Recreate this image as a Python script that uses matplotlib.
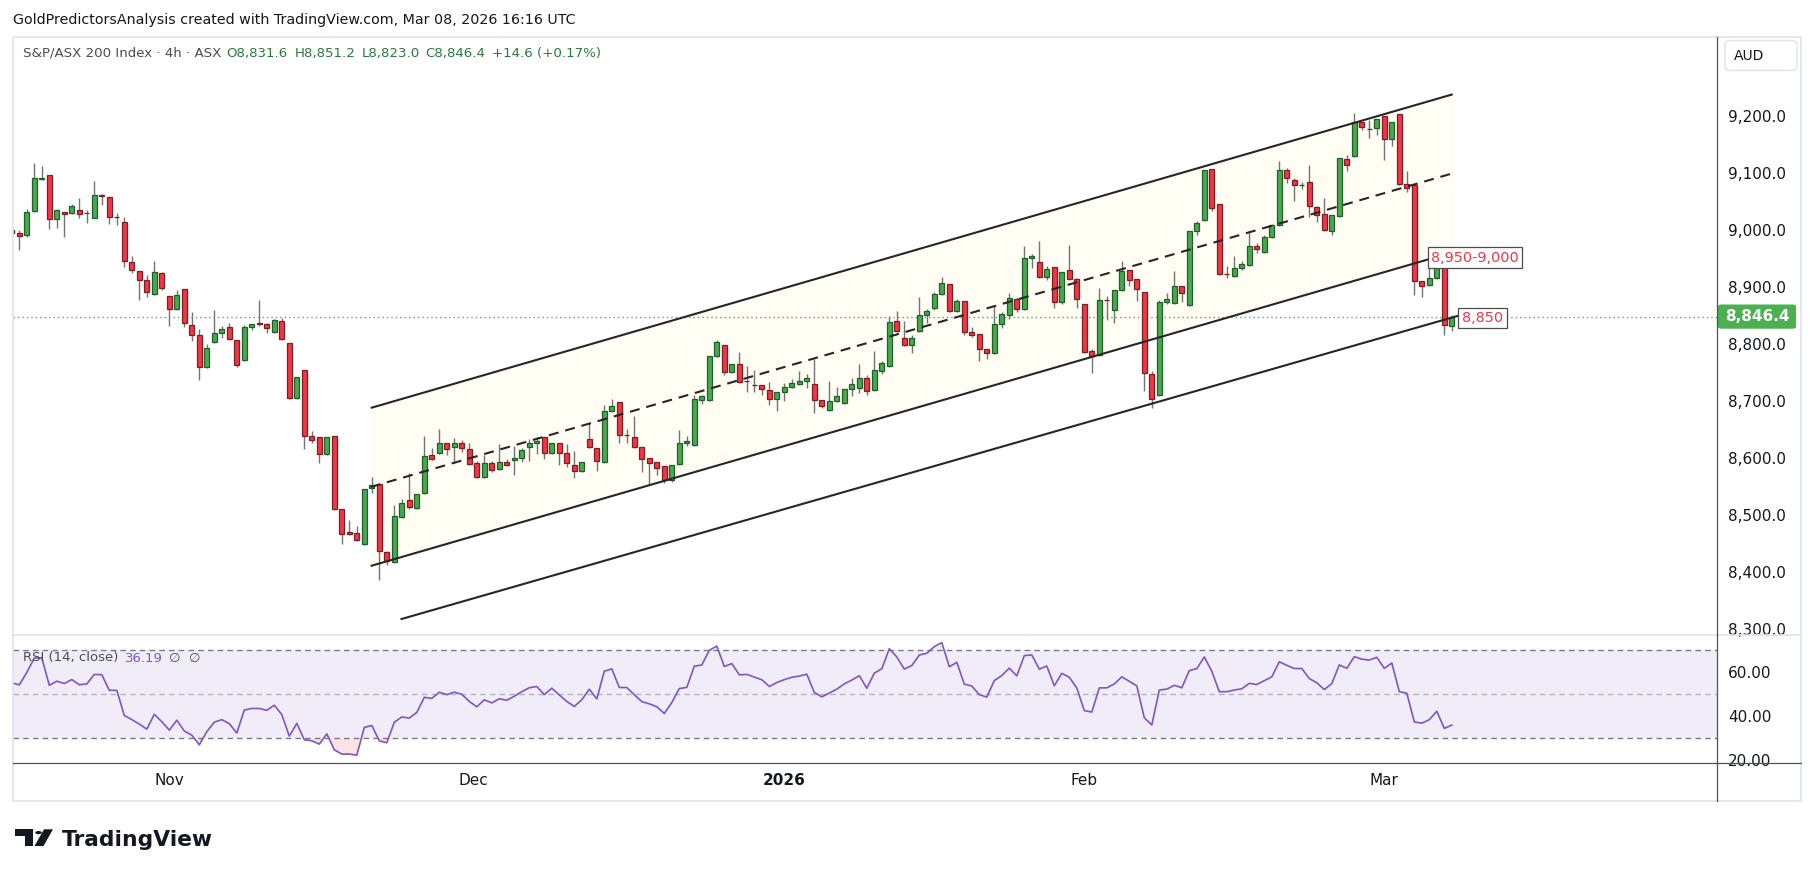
import numpy as np
import matplotlib
matplotlib.use('Agg')
import matplotlib.pyplot as plt
from matplotlib.patches import Rectangle, Polygon, Circle, FancyBboxPatch
from matplotlib.lines import Line2D

plt.rcParams['font.family'] = ['DejaVu Sans']

# ---------------- data (4h candles, S&P/ASX 200) ----------------
opens = [8999, 8995, 8991.5, 9032.5, 9089.8, 9095.7, 9018.4, 9030.7, 9029, 9034.2,
         9029.5, 9020.2, 9061, 9057, 9022.5, 9013.2, 8942.9, 8927.1, 8911.3, 8886.8,
         8923.6, 8883.2, 8860.4, 8895.5, 8832.3, 8814.8, 8758.6, 8802.5, 8818.3, 8828.8,
         8806, 8770.9, 8828.8, 8835.8, 8834.1, 8820, 8839.4, 8800.7, 8704.2, 8753.3,
         8637.5, 8635.7, 8605.9, 8637.4, 8509.3, 8468.9, 8467.2, 8447.9, 8546.2, 8553.2,
         8433.8, 8416.2, 8495.2, 8525.1, 8511, 8537.4, 8604.1, 8607.6, 8625.2, 8618.1,
         8625.2, 8614.6, 8590.1, 8565.5, 8590.1, 8579.5, 8591.7, 8595.3, 8598.8, 8618.1,
         8625.1, 8635.6, 8607.5, 8625.1, 8607.5, 8586.5, 8575.9, 8632.1, 8616.3, 8591.7,
         8681.3, 8697.1, 8639.5, 8635.6, 8618.1, 8598.8, 8591.7, 8584.7, 8560.1, 8588.2,
         8625.1, 8621.6, 8700.6, 8700.6, 8777.8, 8797.2, 8749.7, 8763.8, 8734.5, 8727.5,
         8726.9, 8718.1, 8702.3, 8714.6, 8723.4, 8728.7, 8734, 8728.7, 8700.6, 8683,
         8698.8, 8695.3, 8719.9, 8721.6, 8739.2, 8718.1, 8751.5, 8760.3, 8839.3, 8809.4,
         8797.1, 8821.7, 8849.8, 8862.1, 8886.7, 8904.2, 8856.8, 8874.4, 8820, 8816.5,
         8790.2, 8783.2, 8834.1, 8849.9, 8878, 8860.4, 8950, 8942.9, 8916.6, 8934.1,
         8872.7, 8928.9, 8913.1, 8869.2, 8786.7, 8779.7, 8876.5, 8858.6, 8893.8, 8928.9,
         8913.1, 8890.3, 8746.3, 8709.4, 8872.7, 8870.9, 8900.8, 8867.4, 8997.3, 9016.7,
         9106.2, 9044.8, 8922.5, 8918.4, 8932.4, 8937.7, 8971, 8960.5, 8986.8, 9007.9,
         9104.5, 9086.9, 9078.6, 9083.4, 9039.5, 9027.2, 8997.4, 9023.7, 9123.8, 9129,
         9188.7, 9176.5, 9178.2, 9199.3, 9158.9, 9202.8, 9081, 9078.1, 8909.6, 8902.6,
         8914.9, 8941.2, 8831.6]
highs = [9001, 8999.7, 9036, 9117.3, 9112, 9096.5, 9036, 9031.5, 9045.3, 9055.9,
         9034.8, 9085.7, 9062.3, 9058, 9029, 9021.9, 8954.1, 8928, 8920.1, 8944.7,
         8925.4, 8884, 8893.8, 8896, 8855.2, 8825.3, 8799, 8858.7, 8830.6, 8835.8,
         8807, 8832.3, 8835, 8876.2, 8835.8, 8842.9, 8844.6, 8801, 8742, 8754,
         8646.5, 8636.5, 8636, 8638, 8510, 8490, 8479.4, 8545, 8565.5, 8554,
         8435.6, 8516.3, 8526.8, 8572.5, 8536, 8637.4, 8616.4, 8649.7, 8626, 8633.9,
         8630.4, 8625.2, 8593.6, 8604.1, 8593.6, 8623.4, 8597, 8619.8, 8616.3, 8632.1,
         8635.6, 8637, 8626, 8626, 8623.4, 8611, 8592.5, 8660.2, 8617, 8691.8,
         8702.3, 8698, 8649.7, 8672.5, 8619, 8599.5, 8592.5, 8585.5, 8587, 8647.9,
         8637.4, 8709.4, 8709.4, 8778.5, 8805.9, 8798, 8764.5, 8784.8, 8760.3, 8753.3,
         8727.5, 8732.2, 8715.5, 8730.4, 8737.4, 8751.5, 8746.2, 8772.6, 8701, 8734,
         8723.4, 8720.5, 8739.2, 8763.8, 8744.5, 8786.6, 8769.1, 8848.1, 8856.8, 8839.3,
         8814.7, 8881.4, 8860.3, 8890.2, 8916.5, 8905, 8877.9, 8875, 8828.7, 8817,
         8791, 8865.7, 8855.1, 8888.5, 8881.5, 8971, 8957, 8979.8, 8935.9, 8935,
         8926, 8972.8, 8914.9, 8870, 8790.2, 8897.3, 8883.2, 8894.5, 8944.7, 8929.5,
         8913.5, 8891, 8751.6, 8876.2, 8888.5, 8927.1, 8901.5, 8998, 9014.9, 9105,
         9107, 9045.5, 8935.9, 8953.5, 8944.7, 8997.4, 8976.3, 8990.4, 9009.7, 9120.3,
         9108, 9090.4, 9083.4, 9113.2, 9041.3, 9055.3, 9026, 9126, 9130.8, 9204.5,
         9189.5, 9192.2, 9195, 9200, 9189.5, 9203.5, 9102.7, 9078.5, 8910, 8935.4,
         8951, 8942, 8851.2]
lows = [8993, 8965, 8988, 9032, 9086.9, 9000.9, 9003.8, 8988, 9028, 9021.3,
        9012.6, 9020, 9044.2, 9010.8, 9009, 8935.3, 8923.6, 8877.4, 8882.7, 8886,
        8893.8, 8831.7, 8859, 8828.8, 8804.2, 8735.8, 8758, 8802, 8809.5, 8807,
        8758.6, 8770, 8823.6, 8830.6, 8818.3, 8819, 8806, 8703, 8703, 8614.6,
        8625.2, 8591.2, 8604, 8508, 8447.9, 8463.6, 8453.1, 8447, 8537.4, 8384.6,
        8411, 8415, 8494, 8509.3, 8509.3, 8537, 8595.3, 8607, 8604.1, 8590.1,
        8609.4, 8586.5, 8565, 8565, 8574.3, 8578, 8584.7, 8569, 8591.7, 8593.5,
        8605.8, 8597, 8605.8, 8586.5, 8583, 8563.7, 8574.2, 8617, 8575.9, 8591,
        8680, 8625.1, 8625.1, 8617, 8574.2, 8551.4, 8569, 8554.9, 8556.6, 8587,
        8619.8, 8620, 8693.6, 8700, 8777, 8744.5, 8749, 8731, 8714.6, 8714.6,
        8709.4, 8691.8, 8681.3, 8698.8, 8722.5, 8726.9, 8721.6, 8677.8, 8686.5, 8682,
        8698, 8694.5, 8707.6, 8712.9, 8709.4, 8717, 8746.2, 8759.5, 8821, 8795.4,
        8783.1, 8821, 8835.8, 8858.6, 8884.9, 8856, 8856, 8814.7, 8811.2, 8769.1,
        8772.6, 8782.5, 8827.1, 8842.8, 8855.1, 8859.5, 8932.4, 8915.8, 8911.3, 8862.2,
        8869.2, 8912, 8862.2, 8784, 8748, 8779, 8841.1, 8835.8, 8892, 8900.8,
        8874.5, 8716.4, 8686.6, 8708, 8869.2, 8870, 8872.7, 8866.5, 8990.3, 9016,
        9032.5, 8921, 8914.9, 8917.5, 8928.9, 8937, 8958.7, 8960, 8986, 9007,
        9081.6, 9050, 9071.1, 9021.9, 9013.2, 8998, 8990.4, 9023, 9102.7, 9128,
        9174.7, 9160.6, 9165.9, 9122, 9146.6, 9079, 9065.8, 8885, 8881.5, 8902,
        8913.1, 8814.8, 8823.0]
closes = [8995, 8989.7, 9030.7, 9090.4, 9091.6, 9018.4, 9034.2, 9027.2, 9041.2, 9027.2,
          9029.8, 9060.6, 9060, 9021.9, 9021.9, 8944.7, 8928.9, 8911.3, 8890.3, 8925.4,
          8897.3, 8860.4, 8885, 8835.8, 8814.8, 8758.6, 8792, 8818.3, 8825.3, 8807.7,
          8762.1, 8828.8, 8834.1, 8834, 8827.1, 8841.1, 8807.7, 8704.2, 8741, 8637.5,
          8630.4, 8605.9, 8635.7, 8509.3, 8465.4, 8465.4, 8454.9, 8544.4, 8551.4, 8435.6,
          8418, 8497, 8519.8, 8512.8, 8535.6, 8602.3, 8597.1, 8625.2, 8614.6, 8625.2,
          8616.4, 8588.3, 8565.5, 8590.1, 8577.8, 8591.7, 8586.5, 8598.8, 8612.8, 8625.1,
          8628.6, 8607.5, 8625.1, 8607.5, 8590, 8575.9, 8591.7, 8618.1, 8593.5, 8681.3,
          8690.1, 8639.2, 8639.2, 8618.1, 8597, 8590, 8581.2, 8560.1, 8586.5, 8625.1,
          8628.6, 8702.3, 8707.6, 8777.8, 8802.4, 8749.7, 8763.8, 8732.2, 8734, 8726.9,
          8719.9, 8702.3, 8714.6, 8723.4, 8730.4, 8734, 8739.2, 8700.6, 8690, 8698.8,
          8707.6, 8719.9, 8728.7, 8739.2, 8716.4, 8753.3, 8765.5, 8837.5, 8821.7, 8797.1,
          8809.4, 8849.8, 8856.8, 8886.7, 8906, 8856.8, 8874.4, 8820, 8814.7, 8790.2,
          8783.2, 8834.1, 8851.6, 8879.7, 8860.4, 8950, 8953.5, 8916.6, 8930.6, 8872.7,
          8925.4, 8913.1, 8878, 8784.9, 8777.9, 8876.2, 8876.2, 8893.8, 8927.1, 8911.3,
          8895.5, 8748, 8702.4, 8872.7, 8878, 8900.8, 8888.5, 8997.3, 9011.4, 9104.4,
          9037.7, 8921.9, 8921.9, 8932.4, 8939.4, 8971, 8965.8, 8986.8, 9007.9, 9104.5,
          9090.4, 9078.1, 9078.1, 9041.3, 9025.5, 8999.1, 9025.5, 9125.5, 9113.2, 9188.7,
          9180, 9177, 9194, 9158.9, 9188.7, 9079.9, 9072.9, 8909.6, 8900.8, 8914.9,
          8950, 8832.3, 8846.4]

month_ticks = [21, 61.5, 103, 143, 183]
month_labels = ['Nov', 'Dec', '2026', 'Feb', 'Mar']
price_ticks = [8300, 8400, 8500, 8600, 8700, 8800, 8900, 9000, 9100, 9200]
rsi_ticks = [20, 40, 60]
rsi_levels = [30, 50, 70]
last_price = 8846.4
last_change = '+14.6 (+0.17%)'
rsi_last_text = '36.19'

channel_x = [47.85, 192.12]
channel_upper = [8687.2, 9237.9]
channel_width = 277.4
support_x = [51.83, 192.87]
support_y = [8316.2, 8849.2]
zone_label = '8,950-9,000'
support_label = '8,850'


# RSI (Wilder, 14) derived from the closes, as the indicator pane does
def wilder_rsi(c, period=14, g0=14.0, l0=11.0):
    c = np.asarray(c, float)
    ag, al = g0, l0
    out = np.empty(len(c))
    prev = c[0] + 4
    for k, v in enumerate(c):
        d = v - prev
        ag = (ag * (period - 1) + max(d, 0)) / period
        al = (al * (period - 1) + max(-d, 0)) / period
        out[k] = 100 - 100 / (1 + ag / al)
        prev = v
    return out


o = np.array(opens); h = np.array(highs); l = np.array(lows); c = np.array(closes)
n = len(c)
x = np.arange(n)
rsi = wilder_rsi(c)

# ---------------- figure layout (pixels) ----------------
W, H, DPI = 1815, 877, 100
fig = plt.figure(figsize=(W / DPI, H / DPI), dpi=DPI)
fig.patch.set_facecolor('white')


def fx(px):
    return px / W


def fy(py):
    return 1 - py / H


L, R = 12.7, 1717.0
T, PB, RB, TB = 37.0, 634.5, 763.0, 801.0
FR = 1801.0

ax = fig.add_axes([fx(L), fy(PB), fx(R) - fx(L), fy(T) - fy(PB)])
axr = fig.add_axes([fx(L), fy(RB), fx(R) - fx(L), fy(PB) - fy(RB)], sharex=ax)
for a in (ax, axr):
    a.set_facecolor('none')
    for s in a.spines.values():
        s.set_visible(False)

xmin, xmax = 0.12, 227.36
ax.set_xlim(xmin, xmax)
ax.set_ylim(8289.5, 9338.5)
axr.set_ylim(18.86, 77.27)

GREEN, GREEN_E = '#4aa84f', '#1f5f2a'
RED, RED_E = '#f23645', '#7d1d24'
up = c >= o
fills = np.where(up, GREEN, RED)
edges = np.where(up, GREEN_E, RED_E)

# channel fill
cx = np.array(channel_x)
cu = np.array(channel_upper)
cl = cu - channel_width
cm = cu - channel_width / 2
ax.fill_between(cx, cl, cu, color='#fffdf4', lw=0, zorder=1)

# candles
ax.vlines(x, l, h, color='#737373', lw=1.0, zorder=2)
ax.bar(x, np.maximum(np.abs(c - o), 0.4), bottom=np.minimum(o, c), width=0.64,
       color=fills, edgecolor=edges, linewidth=0.9, zorder=3)

# channel lines + support
LC = '#262626'
ax.plot(cx, cu, color=LC, lw=1.5, zorder=4, solid_capstyle='butt')
ax.plot(cx, cl, color=LC, lw=1.5, zorder=4, solid_capstyle='butt')
ax.plot(cx, cm, color=LC, lw=1.5, zorder=4, ls=(0, (4.8, 3.3)))
ax.plot(support_x, support_y, color=LC, lw=1.5, zorder=4, solid_capstyle='butt')

# last price dotted line
ax.axhline(last_price, color='#4caf50', lw=1, ls=(0, (1, 2.2)), zorder=2)


# labels on drawings
def boxed(cxp, cyp, w_idx, h_pr, text):
    ax.add_patch(Rectangle((cxp - w_idx / 2, cyp - h_pr / 2), w_idx, h_pr, fc='white',
                           ec='#4d4d4d', lw=0.9, zorder=5))
    ax.text(cxp, cyp, text, ha='center', va='center', color='#f23645', fontsize=10.4,
            zorder=6)


boxed(195.13, 8950.9, 12.53, 36.9, zone_label)
boxed(196.13, 8845.2, 6.53, 36.2, support_label)

# axes ticks
ax.yaxis.tick_right()
ax.set_yticks(price_ticks)
ax.set_yticklabels([f'{v:,.1f}' for v in price_ticks])
ax.tick_params(axis='y', length=0, pad=8, labelsize=11, labelcolor='#131722')
ax.tick_params(axis='x', length=0, labelbottom=False)

# RSI pane
axr.fill_between([xmin, xmax], 30, 70, color='#7e57c2', alpha=0.1, lw=0, zorder=0)
for lev in rsi_levels:
    axr.axhline(lev, color='#787b86', lw=1, ls=(0, (4, 3)), alpha=1 if lev != 50 else 0.5,
                zorder=1)
axr.fill_between(x, rsi, 30, where=rsi < 30, interpolate=True, color='#f23645', alpha=0.15,
                 lw=0, zorder=1)
axr.fill_between(x, rsi, 70, where=rsi > 70, interpolate=True, color='#4caf50', alpha=0.15,
                 lw=0, zorder=1)
axr.plot(x, rsi, color='#7e57c2', lw=1.2, zorder=3)
axr.yaxis.tick_right()
axr.set_yticks(rsi_ticks)
axr.set_yticklabels([f'{v:.2f}' for v in rsi_ticks])
axr.tick_params(axis='y', length=0, pad=8, labelsize=11, labelcolor='#131722')
axr.set_xticks(month_ticks)
axr.set_xticklabels(month_labels)
axr.tick_params(axis='x', length=0, pad=7, labelsize=11, labelcolor='#131722')
for t in axr.get_xticklabels():
    if t.get_text() == '2026':
        t.set_fontweight('bold')


# ---------------- frame & separators ----------------
def fline(x0, y0, x1, y1, color, lw=1.0):
    fig.add_artist(Line2D([fx(x0), fx(x1)], [fy(y0), fy(y1)], color=color, lw=lw,
                          transform=fig.transFigure))


fig.add_artist(Rectangle((fx(L), fy(TB)), fx(FR) - fx(L), fy(T) - fy(TB), fill=False,
                         ec='#e0e3eb', lw=1.2, transform=fig.transFigure))
fline(L, PB, FR, PB, '#e0e3eb', 1.2)
fline(L, RB, FR, RB, '#50535e', 0.9)
fline(R, T, R, TB, '#50535e', 0.9)

# last price tag
fig.add_artist(FancyBboxPatch((fx(1718), fy(328.7)), fx(1796) - fx(1718), fy(304.5) - fy(328.7),
                              boxstyle='round,pad=0,rounding_size=0.002', fc='#4caf50',
                              ec='none', transform=fig.transFigure))
fig.text(fx(1757), fy(316.6), f'{last_price:,.1f}', color='white', fontsize=11,
         fontweight='bold', ha='center', va='center')

# AUD box
fig.add_artist(FancyBboxPatch((fx(1725), fy(70.5)), fx(1797) - fx(1725), fy(40.5) - fy(70.5),
                              boxstyle='round,pad=0,rounding_size=0.004', fc='white',
                              ec='#e0e3eb', lw=1, transform=fig.transFigure))
fig.text(fx(1734), fy(55.5), 'AUD', color='#131722', fontsize=10, ha='left', va='center')

renderer = fig.canvas.get_renderer()


def fit(t, target):
    w = t.get_window_extent(renderer).width
    t.set_fontsize(t.get_fontsize() * target / w)
    return t


def row(x0, y0, segs, total_w, gap_em=0.45, base=10.0):
    """Lay out coloured text segments on one line so that they span total_w px."""
    widths = []
    for s, col in segs:
        tt = fig.text(0, 0, s, fontsize=base)
        widths.append(tt.get_window_extent(renderer).width)
        tt.remove()
    gap = gap_em * base * DPI / 72
    tot = sum(widths) + gap * (len(segs) - 1)
    k = total_w / tot
    xp = x0
    for (s, col), wd in zip(segs, widths):
        fig.text(fx(xp), fy(y0), s, color=col, fontsize=base * k, ha='left', va='center')
        xp += (wd + gap) * k


# watermark
fit(fig.text(fx(13.5), fy(20), 'GoldPredictorsAnalysis created with TradingView.com, Mar 08, 2026 16:16 UTC',
             color='#131722', fontsize=10, ha='left', va='center'), 562)

# header legend
GV = '#2b7a3e'
row(23.2, 53, [('S&P/ASX 200 Index \u00b7 4h \u00b7 ASX', '#4a4d57'),
               (f'O{opens[-1]:,.1f}', GV), (f'H{highs[-1]:,.1f}', GV),
               (f'L{lows[-1]:,.1f}', GV), (f'C{closes[-1]:,.1f}', GV),
               (last_change, GV)], 578)

# RSI legend
row(23, 658, [('RSI (14, close)', '#4a4d57'), (rsi_last_text, '#7e57c2'),
              ('\u2205  \u2205', '#4a4d57')], 178, gap_em=0.5)

# TradingView logo
fig.add_artist(Polygon([(fx(15), fy(829.3)), (fx(33.3), fy(829.3)), (fx(33.3), fy(846)),
                        (fx(25), fy(846)), (fx(25), fy(835.5)), (fx(15), fy(835.5))],
                       closed=True, fc='#131722', ec='none', transform=fig.transFigure))
fig.add_artist(Circle((fx(38.5), fy(832.6)), 3.3 / W, fc='#131722', ec='none',
                      transform=fig.transFigure))
fig.add_artist(Polygon([(fx(44), fy(829.3)), (fx(53), fy(829.3)), (fx(43.5), fy(846)),
                        (fx(34.5), fy(846))], closed=True, fc='#131722', ec='none',
                       transform=fig.transFigure))
fit(fig.text(fx(61.7), fy(846), 'TradingView', color='#131722', fontsize=16,
             fontweight='bold', ha='left', va='baseline'), 150.6)

fig.savefig('out.png', dpi=DPI, facecolor='white')
